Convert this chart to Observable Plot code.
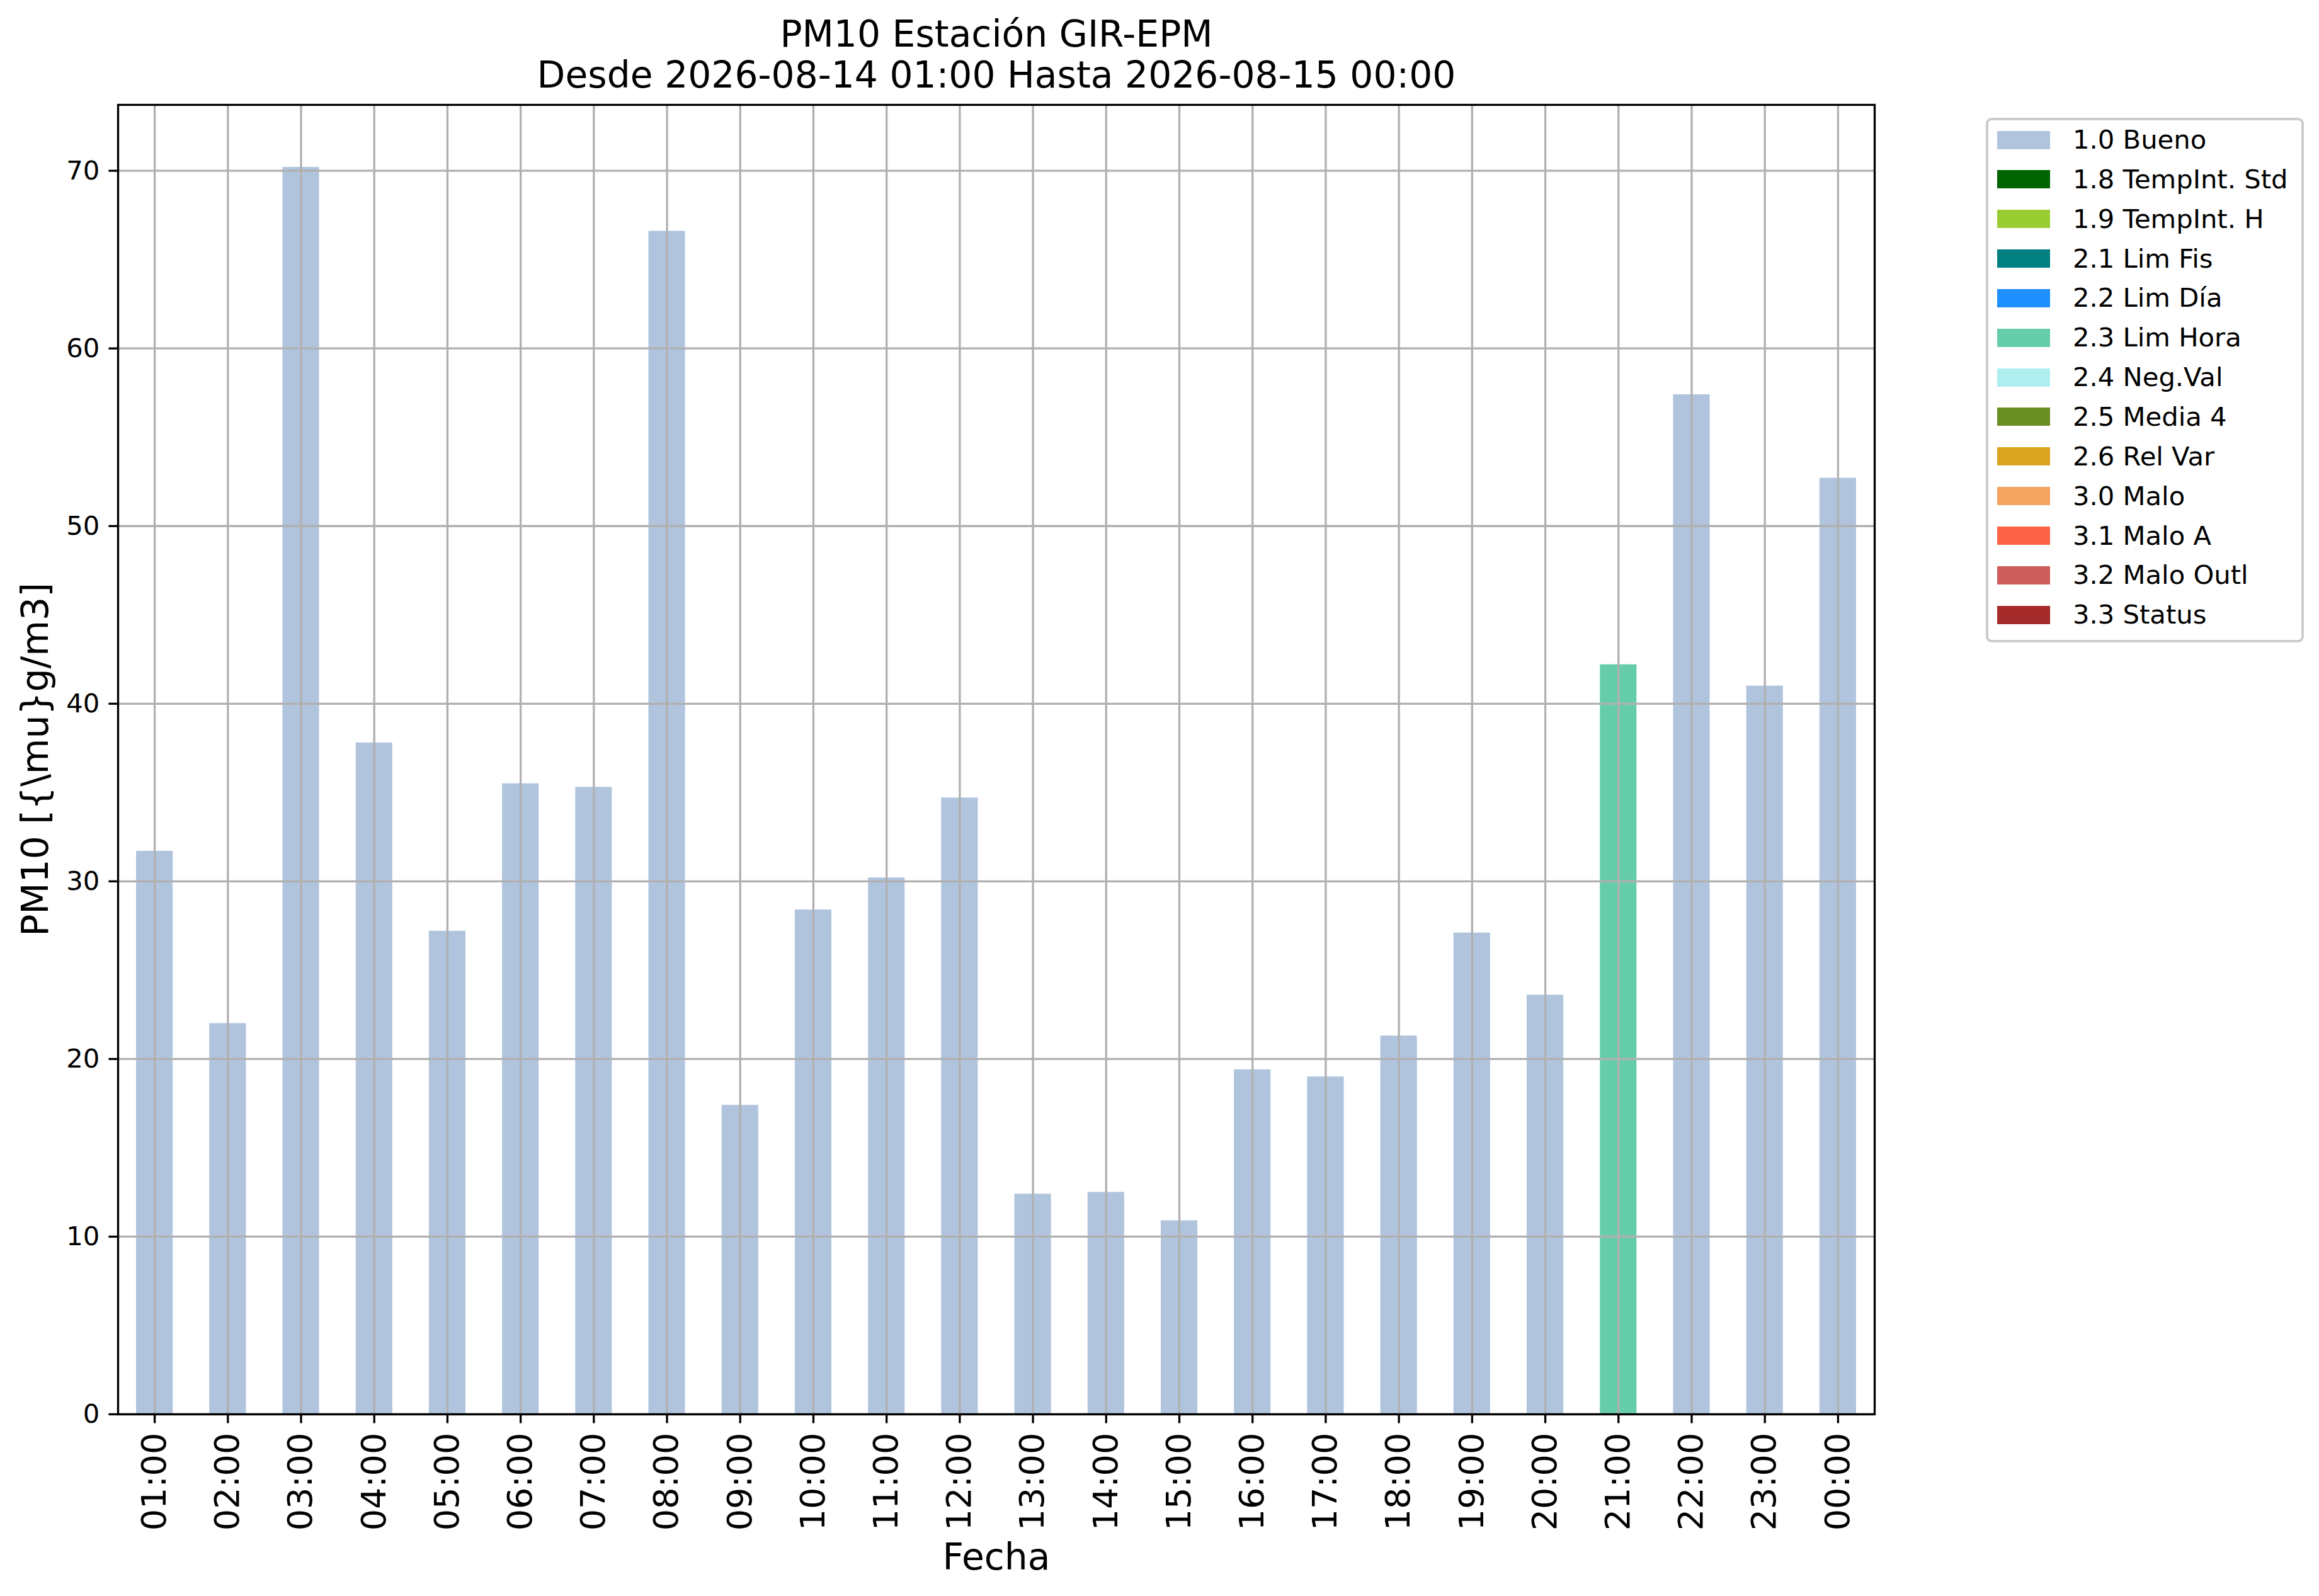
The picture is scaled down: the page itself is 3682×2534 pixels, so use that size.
<!DOCTYPE html>
<html>
<head>
<meta charset="utf-8">
<script src="https://cdn.jsdelivr.net/npm/d3@7"></script>
<script src="https://cdn.jsdelivr.net/npm/@observablehq/plot@0.6"></script>
<style>
  html, body { margin: 0; padding: 0; background: white; }
  #page { position: relative; width: 3682px; height: 2534px; background: white; font-family: 'DejaVu Sans', sans-serif; color: black; overflow: hidden; }
  #title { position: absolute; left: 0; top: 22px; width: 3164px; text-align: center; font-size: 58.3px; line-height: 65px; white-space: nowrap; }
  #chart { position: absolute; left: 0; top: 160px; }
  #legend { position: absolute; left: 3153px; top: 187px; width: 497px; height: 825px; border: 4px solid #cccccc; border-radius: 9px; background: rgba(255,255,255,0.8); }
  .lg-sw { position: absolute; left: 14px; width: 84px; height: 29px; }
  .lg-tx { position: absolute; left: 134px; font-size: 41.7px; line-height: 60px; height: 60px; white-space: nowrap; }
</style>
</head>
<body>
<div id="page">
  <div id="title"></div>
  <div id="chart"></div>
  <div id="legend"></div>
</div>
<script>
// ---- data ----
const titleLines = ["PM10 Estación GIR-EPM", "Desde 2026-08-14 01:00 Hasta 2026-08-15 00:00"];
const xLabel = "Fecha";
const yLabel = "PM10 [{\\mu}g/m3]";

const hours = ["01:00","02:00","03:00","04:00","05:00","06:00","07:00","08:00","09:00","10:00","11:00","12:00",
               "13:00","14:00","15:00","16:00","17:00","18:00","19:00","20:00","21:00","22:00","23:00","00:00"];
const pm10 = [31.7, 22.0, 70.2, 37.8, 27.2, 35.5, 35.3, 66.6, 17.4, 28.4, 30.2, 34.7,
              12.4, 12.5, 10.9, 19.4, 19.0, 21.3, 27.1, 23.6, 42.2, 57.4, 41.0, 52.7];
const flags = ["1.0 Bueno","1.0 Bueno","1.0 Bueno","1.0 Bueno","1.0 Bueno","1.0 Bueno","1.0 Bueno","1.0 Bueno",
               "1.0 Bueno","1.0 Bueno","1.0 Bueno","1.0 Bueno","1.0 Bueno","1.0 Bueno","1.0 Bueno","1.0 Bueno",
               "1.0 Bueno","1.0 Bueno","1.0 Bueno","1.0 Bueno","2.3 Lim Hora","1.0 Bueno","1.0 Bueno","1.0 Bueno"];

const flagLabels = ["1.0 Bueno","1.8 TempInt. Std","1.9 TempInt. H","2.1 Lim Fis","2.2 Lim Día","2.3 Lim Hora",
                    "2.4 Neg.Val","2.5 Media 4","2.6 Rel Var","3.0 Malo","3.1 Malo A","3.2 Malo Outl","3.3 Status"];
const flagColors = ["#b0c4de","#006400","#9acd32","#008080","#1e90ff","#66cdaa",
                    "#afeeee","#6b8e23","#daa520","#f4a460","#ff6347","#cd5c5c","#a52a2a"];

const yTicks = [0, 10, 20, 30, 40, 50, 60, 70];

// ---- build ----
const rows = hours.map((h, i) => ({hour: h, value: pm10[i], flag: flags[i]}));
const yMax = d3.max(pm10) * 1.05;

document.getElementById("title").innerHTML = titleLines.map(t => `<div>${t}</div>`).join("");

const lw = 3.3;
const chart = Plot.plot({
  width: 3682,
  height: 2374,
  marginLeft: 187,
  marginRight: 706,
  marginTop: 6,
  marginBottom: 289,
  style: {fontFamily: "'DejaVu Sans', sans-serif", fontSize: "41.7px", color: "black", background: "transparent", overflow: "visible"},
  x: {type: "band", domain: hours, paddingInner: 0.5, paddingOuter: 0.25, round: false, axis: null},
  y: {domain: [0, yMax], axis: null},
  color: {domain: flagLabels, range: flagColors},
  marks: [
    Plot.barY(rows, {x: "hour", y: "value", fill: "flag"}),
    Plot.gridX({stroke: "#b0b0b0", strokeOpacity: 1, strokeWidth: lw}),
    Plot.gridY(yTicks, {stroke: "#b0b0b0", strokeOpacity: 1, strokeWidth: lw}),
    Plot.axisX({tickRotate: -90, fontSize: 54, tickSize: 14.6, tickPadding: 14.6, strokeWidth: lw, label: null}),
    Plot.axisY(yTicks, {tickSize: 14.6, tickPadding: 14.6, fontSize: 41.7, strokeWidth: lw, label: null, tickFormat: d => String(d)}),
    Plot.frame({stroke: "black", strokeWidth: lw}),
    Plot.text([yLabel], {text: d => d, frameAnchor: "left", dx: -130.6, rotate: -90, fontSize: 58.3, textAnchor: "middle", lineAnchor: "middle"}),
    Plot.text([xLabel], {text: d => d, frameAnchor: "bottom", dy: 228, fontSize: 58.3, textAnchor: "middle", lineAnchor: "middle"})
  ]
});
document.getElementById("chart").appendChild(chart);

// ---- legend ----
const legend = document.getElementById("legend");
flagLabels.forEach((lab, i) => {
  const cy = 31 + i * 62.85; // row center relative to legend content box
  const sw = document.createElement("div");
  sw.className = "lg-sw";
  sw.style.top = (cy - 14.5) + "px";
  sw.style.background = flagColors[i];
  legend.appendChild(sw);
  const tx = document.createElement("div");
  tx.className = "lg-tx";
  tx.style.top = (cy - 30) + "px";
  tx.textContent = lab;
  legend.appendChild(tx);
});
</script>
</body>
</html>
